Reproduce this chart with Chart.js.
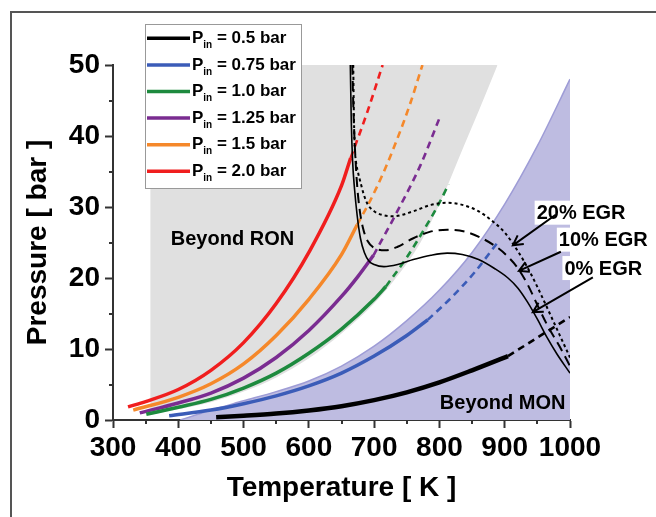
<!DOCTYPE html>
<html>
<head>
<meta charset="utf-8">
<script src="https://cdn.jsdelivr.net/npm/chart.js@4.4.1/dist/chart.umd.min.js"></script>
<style>
  body { margin: 0; background: #fff; }
  #wrap { position: relative; width: 656px; height: 517px; }
  #frame { position: absolute; left: 10px; top: 11px; right: -5px; bottom: -5px;
           border-left: 2px solid #555; border-top: 2px solid #555; }
  canvas { position: absolute; left: 0; top: 0; }
</style>
</head>
<body>
<div id="wrap">
  <div id="frame"></div>
  <canvas id="chart" width="656" height="517"></canvas>
</div>
<script>
// [temperature K, pressure bar]
const pin05Solid = [[458,0.4],[500,0.6],[550,0.9],[600,1.35],[650,1.95],[700,2.8],[750,3.9],[800,5.3],[850,7.0],[905,9.0]];
const pin05Dash = [[905,9.0],[950,11.6],[1000,14.5]];
const pin075Solid = [[386,0.6],[450,1.4],[500,2.3],[550,3.4],[600,4.8],[650,6.6],[700,9.0],[750,11.9],[782,14.1]];
const pin075Dash = [[782,14.1],[820,17.4],[853,20.7],[889,25.0]];
const pin10Solid = [[351,0.8],[400,1.8],[450,2.9],[500,4.5],[550,6.6],[600,9.4],[650,12.8],[700,17.0],[718,18.8]];
const pin10Dash = [[718,18.8],[750,22.9],[775,26.6],[800,30.6],[814,33.2]];
const pin125Solid = [[341,1.0],[400,2.4],[450,3.8],[500,5.9],[550,8.8],[600,12.6],[650,17.4],[675,20.2],[699,23.2]];
const pin125Dash = [[699,23.2],[735,29.3],[771,35.9],[800,42.5]];
const pin15Solid = [[331,1.4],[400,3.2],[450,5.1],[500,7.9],[550,11.9],[600,17.0],[650,23.3],[674,27.5]];
const pin15Dash = [[674,27.5],[694,30.9],[715,35.0],[735,39.5],[755,44.5],[774,50]];
const pin20Solid = [[323,1.85],[350,2.6],[400,4.3],[450,7.0],[500,10.9],[550,16.4],[600,23.6],[650,33.0],[664,36.9]];
const pin20Dash = [[664,36.9],[690,43.5],[713,50]];

const egr0 = [[663.5,50],[665,42],[667,36.5],[670,32.5],[674,28.8],[679,25.6],[685,23.6],[692,22.4],[700,21.9],[715,21.6],[736,21.9],[760,22.6],[787,23.2],[812,23.5],[835,23.3],[860,22.6],[885,21.3],[905,20.0],[920,18.6],[935,16.6],[950,14.2],[965,11.6],[980,9.3],[1000,6.6]];
const egr10 = [[666.5,50],[668.5,43],[671,37.5],[674,33],[678,29.5],[683,27],[690,25.2],[699,24.3],[717,23.9],[736,24.4],[760,25.6],[785,26.5],[812,26.8],[840,26.5],[865,25.6],[890,24.2],[905,23.0],[920,21.4],[935,19.1],[950,16.2],[965,13.4],[985,10.2],[1000,7.6]];
const egr20 = [[668,50],[668.8,44],[670,39],[672,36.5],[675,35],[679,33.5],[684,31.8],[690,30.4],[700,29.4],[712,28.9],[730,28.7],[760,29.4],[787,30.3],[812,30.6],[835,30.3],[860,29.4],[880,28.1],[900,26.4],[920,23.8],[940,20.6],[960,16.8],[975,13.8],[988,11.2],[1000,8.8]];

const ronLimit = [[357,0.7],[400,1.5],[450,2.5],[500,4.0],[550,6.0],[600,8.7],[650,12.2],[700,16.4],[730,19.6],[771,25.0],[802,30.8],[837,38.5],[860,43.5],[889,50]];
const monLimit = [[403,0],[430,0.8],[450,1.4],[500,2.7],[550,4.0],[600,5.5],[650,7.6],[700,10.4],[750,14.0],[800,18.3],[850,23.6],[900,30.4],[950,38.6],[1000,48]];

const legendLabels = ['0.5', '0.75', '1.0', '1.25', '1.5', '2.0'];
const seriesColors = ['#000000', '#3b5cb8', '#1d8a3e', '#7a2c91', '#f5882a', '#f01e1e'];

// annotation texts: [text, T, P, align, white box]
const notes = [
  ['Beyond RON', 483, 25.6, 'center', false],
  ['Beyond MON', 993, 2.5, 'right', false],
  ['20% EGR', 1017, 29.2, 'center', true],
  ['10% EGR', 1051, 25.4, 'center', true],
  ['0% EGR', 1051, 21.4, 'center', true]
];
// arrows: [fromT, fromP, toT, toP]
const arrows = [
  [978, 28.9, 912.5, 24.6],
  [986, 23.7, 921.7, 21.0],
  [1035, 20.1, 943, 15.2]
];

const FONT = "'Liberation Sans', Arial, sans-serif";
const xy = (pts) => pts.map(([x, y]) => ({ x, y }));

function curve(pts, color, width, dash, order) {
  return {
    data: xy(pts),
    borderColor: color,
    borderWidth: width,
    borderDash: dash || [],
    pointRadius: 0,
    cubicInterpolationMode: 'monotone',
    fill: false,
    order: order,
  };
}

const solids = [pin05Solid, pin075Solid, pin10Solid, pin125Solid, pin15Solid, pin20Solid];
const dashes = [pin05Dash, pin075Dash, pin10Dash, pin125Dash, pin15Dash, pin20Dash];

const datasets = [];
solids.forEach((pts, i) => datasets.push(curve(pts, seriesColors[i], i === 0 ? 4.5 : 3.5, null, 1)));
dashes.forEach((pts, i) => datasets.push(curve(pts, seriesColors[i], 2.6, [7, 5], 1)));
datasets.push(curve(egr0, '#000', 1.6, null, 0));
datasets.push(curve(egr10, '#000', 2, [10, 6], 0));
datasets.push(curve(egr20, '#000', 2, [3, 3], 0));
datasets.push({
  data: xy(ronLimit), borderWidth: 0, borderColor: 'rgba(0,0,0,0)',
  backgroundColor: '#e0e0e0', fill: { value: 50 }, pointRadius: 0,
  cubicInterpolationMode: 'monotone', order: 6,
});
datasets.push({
  data: xy(monLimit), borderWidth: 1.5, borderColor: '#9e9cd6',
  backgroundColor: '#bebce1', fill: 'origin', pointRadius: 0,
  cubicInterpolationMode: 'monotone', order: 5,
});

const extras = {
  id: 'extras',
  afterDraw(chart) {
    const ctx = chart.ctx;
    const sx = chart.scales.x, sy = chart.scales.y;
    const ca = chart.chartArea;
    ctx.save();

    // minor ticks
    ctx.strokeStyle = '#333';
    ctx.lineWidth = 2;
    ctx.beginPath();
    for (let t = 350; t < 1000; t += 100) {
      const px = Math.round(sx.getPixelForValue(t));
      ctx.moveTo(px, ca.bottom);
      ctx.lineTo(px, ca.bottom + 4);
    }
    for (let p = 5; p < 50; p += 10) {
      const py = Math.round(sy.getPixelForValue(p));
      ctx.moveTo(ca.left, py);
      ctx.lineTo(ca.left - 4, py);
    }
    ctx.stroke();

    // legend
    ctx.fillStyle = '#fff';
    ctx.fillRect(145, 24, 156, 164);
    ctx.strokeStyle = '#999';
    ctx.lineWidth = 1;
    ctx.strokeRect(145.5, 24.5, 156, 164);
    legendLabels.forEach((lab, i) => {
      const y = 38.3 + i * 26.6;
      ctx.strokeStyle = seriesColors[i];
      ctx.lineWidth = 3.5;
      ctx.beginPath();
      ctx.moveTo(147, y);
      ctx.lineTo(190, y);
      ctx.stroke();
      ctx.fillStyle = '#000';
      ctx.textBaseline = 'middle';
      ctx.textAlign = 'left';
      let x = 192;
      ctx.font = 'bold 17px ' + FONT;
      ctx.fillText('P', x, y);
      x += ctx.measureText('P').width;
      ctx.font = 'bold 10px ' + FONT;
      ctx.fillText('in', x, y + 7);
      x += ctx.measureText('in').width;
      ctx.font = 'bold 17px ' + FONT;
      ctx.fillText(' = ' + lab + ' bar', x, y);
    });

    // notes
    ctx.font = 'bold 20px ' + FONT;
    ctx.textBaseline = 'middle';
    notes.forEach(([txt, t, p, align, box]) => {
      const px = sx.getPixelForValue(t), py = sy.getPixelForValue(p);
      const w = ctx.measureText(txt).width;
      if (box) {
        ctx.fillStyle = '#fff';
        ctx.fillRect(px - w / 2 - 2, py - 12, w + 4, 24);
      }
      ctx.fillStyle = '#000';
      ctx.textAlign = align;
      ctx.fillText(txt, px, py + 1);
    });

    // arrows
    ctx.strokeStyle = '#000';
    ctx.lineWidth = 2;
    arrows.forEach(([t1, p1, t2, p2]) => {
      const x1 = sx.getPixelForValue(t1), y1 = sy.getPixelForValue(p1);
      const x2 = sx.getPixelForValue(t2), y2 = sy.getPixelForValue(p2);
      const a = Math.atan2(y2 - y1, x2 - x1);
      ctx.beginPath();
      ctx.moveTo(x1, y1);
      ctx.lineTo(x2, y2);
      ctx.moveTo(x2 - 11 * Math.cos(a - 0.5), y2 - 11 * Math.sin(a - 0.5));
      ctx.lineTo(x2, y2);
      ctx.lineTo(x2 - 11 * Math.cos(a + 0.5), y2 - 11 * Math.sin(a + 0.5));
      ctx.stroke();
    });
    ctx.restore();
  }
};

new Chart(document.getElementById('chart'), {
  type: 'line',
  data: { datasets: datasets },
  plugins: [extras],
  options: {
    responsive: false,
    animation: false,
    layout: { padding: { left: 0, top: 65, right: 86, bottom: 0 } },
    plugins: { legend: { display: false }, tooltip: { enabled: false } },
    scales: {
      x: {
        type: 'linear', min: 300, max: 1000,
        ticks: { stepSize: 100, color: '#000', padding: 3, maxRotation: 0, autoSkip: false,
                 callback: (v) => String(v),
                 font: { family: FONT, size: 28, weight: 'bold' } },
        grid: { drawOnChartArea: false, tickLength: 8, tickColor: '#333', tickWidth: 2 },
        border: { color: '#333', width: 2 },
        title: { display: true, text: 'Temperature [ K ]', color: '#000',
                 font: { family: FONT, size: 28, weight: 'bold' }, padding: { top: 0, bottom: 12 } },
        afterFit: (s) => { s.height = 97; },
      },
      y: {
        type: 'linear', min: 0, max: 50,
        ticks: { stepSize: 10, color: '#000', padding: 5, autoSkip: false,
                 callback: (v) => String(v),
                 font: { family: FONT, size: 28, weight: 'bold' } },
        grid: { drawOnChartArea: false, tickLength: 8, tickColor: '#333', tickWidth: 2 },
        border: { color: '#333', width: 2 },
        title: { display: true, text: 'Pressure [ bar ]', color: '#000',
                 font: { family: FONT, size: 28, weight: 'bold' }, padding: { top: 21, bottom: 0 } },
        afterFit: (s) => { s.width = 113; },
      },
    },
  },
});
</script>
</body>
</html>
